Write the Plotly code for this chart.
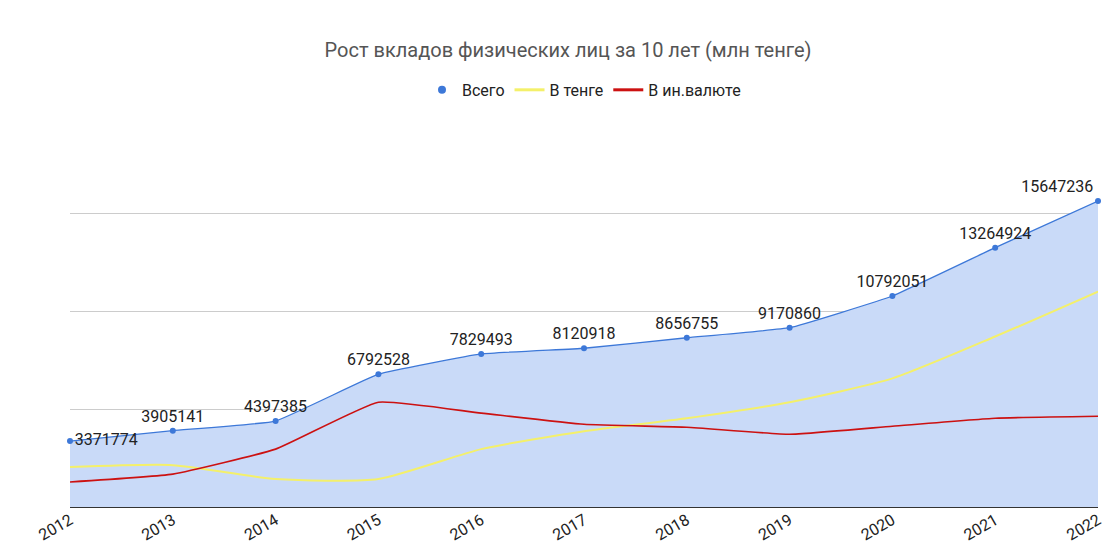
import plotly.graph_objects as go

years = list(range(2012, 2023))
total = [3371774, 3905141, 4397385, 6792528, 7829493, 8120918, 8656755, 9170860, 10792051, 13264924, 15647236]
tenge = [2040000, 2140000, 1430000, 1430000, 2960000, 3880000, 4540000, 5360000, 6580000, 8720000, 11020000]
foreign = [1280000, 1680000, 2960000, 5360000, 4800000, 4230000, 4080000, 3720000, 4130000, 4540000, 4640000]

font = "Roboto"
blue = "#3d78d8"

fig = go.Figure()
fig.add_trace(go.Scatter(
    x=years, y=total, mode="lines+markers+text", fill="tozeroy",
    fillcolor="#c9daf8", line=dict(color=blue, width=1.3, shape="spline", smoothing=0.3),
    marker=dict(size=6, color=blue),
    text=[str(v) for v in total],
    textposition=["middle right"] + ["top center"] * 9 + ["top left"],
    textfont=dict(family=font, size=16, color="#222"),
    showlegend=False, cliponaxis=False,
))
fig.add_trace(go.Scatter(x=years, y=tenge, mode="lines", line=dict(color="#f4f06a", width=2, shape="spline", smoothing=0.6),
                         showlegend=False))
fig.add_trace(go.Scatter(x=years, y=foreign, mode="lines", line=dict(color="#cc1111", width=1.6, shape="spline", smoothing=0.4),
                         showlegend=False))
# legend entries
fig.add_trace(go.Scatter(x=[None], y=[None], mode="markers", marker=dict(color=blue, size=8), name="Всего"))
fig.add_trace(go.Scatter(x=[None], y=[None], mode="lines", line=dict(color="#f4f06a", width=3), name="В тенге"))
fig.add_trace(go.Scatter(x=[None], y=[None], mode="lines", line=dict(color="#cc1111", width=3), name="В ин.валюте"))

fig.update_layout(
    width=1120, height=559,
    paper_bgcolor="white", plot_bgcolor="white",
    margin=dict(l=62, r=30, t=107, b=60, autoexpand=False),
    title=dict(text="Рост вкладов физических лиц за 10 лет (млн тенге)", x=0.5, y=0.925, xanchor="center",
               yanchor="middle", font=dict(family=font, size=20, color="#555")),
    legend=dict(orientation="h", x=0.5, xanchor="center", y=1.064, yanchor="middle",
                font=dict(family=font, size=16, color="#222"), itemwidth=30),
    xaxis=dict(range=[2012, 2022], tickmode="array", tickvals=years, ticktext=[str(y) for y in years],
               tickangle=-30, showgrid=False, zeroline=False, showline=False,
               tickfont=dict(family=font, size=16, color="#222")),
    yaxis=dict(range=[0, 20050000], tickvals=[0, 5000000, 10000000, 15000000, 20000000], showticklabels=False,
               gridcolor="#cccccc", zeroline=True, zerolinecolor="#333", zerolinewidth=1),
)
fig.write_html("out.html")
